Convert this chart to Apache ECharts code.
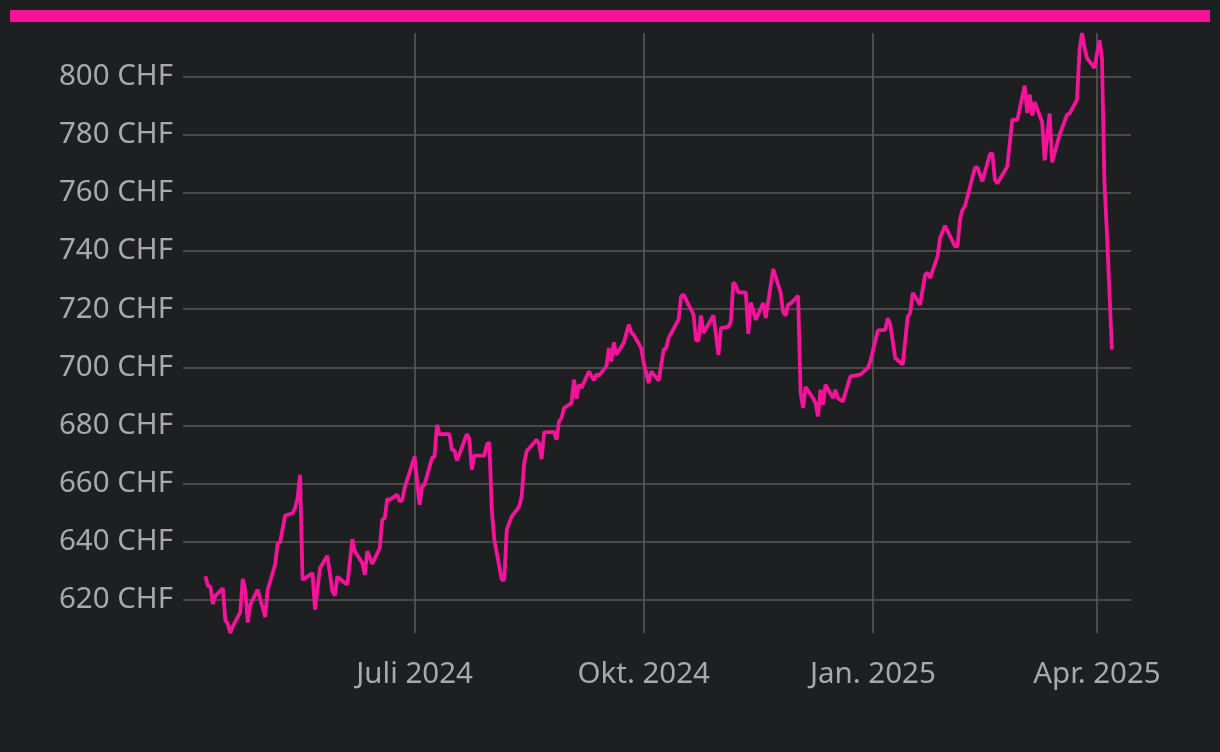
<!DOCTYPE html>
<html>
<head>
<meta charset="utf-8">
<script src="https://cdn.jsdelivr.net/npm/echarts@6/dist/echarts.min.js"></script>
<style>
  html, body { margin: 0; padding: 0; background: #1e1f21; }
  #chart { width: 1220px; height: 752px; }
</style>
</head>
<body>
<div id="chart"></div>
<script>
// Kursverlauf (Schlusskurse)
const dates = [
  '2024-04-08','2024-04-09','2024-04-10','2024-04-11','2024-04-12','2024-04-15','2024-04-16','2024-04-17','2024-04-18','2024-04-19',
  '2024-04-22','2024-04-23','2024-04-24','2024-04-25','2024-04-26','2024-04-29','2024-05-02','2024-05-03','2024-05-06','2024-05-07',
  '2024-05-08','2024-05-10','2024-05-13','2024-05-14','2024-05-15','2024-05-16','2024-05-17','2024-05-21','2024-05-22','2024-05-24',
  '2024-05-27','2024-05-29','2024-05-30','2024-05-31','2024-06-03','2024-06-04','2024-06-06','2024-06-07','2024-06-10','2024-06-11',
  '2024-06-12','2024-06-14','2024-06-17','2024-06-18','2024-06-19','2024-06-20','2024-06-21','2024-06-24','2024-06-25','2024-06-26',
  '2024-06-27','2024-07-01','2024-07-03','2024-07-04','2024-07-05','2024-07-08','2024-07-09','2024-07-10','2024-07-11','2024-07-12',
  '2024-07-15','2024-07-16','2024-07-17','2024-07-18','2024-07-22','2024-07-23','2024-07-24','2024-07-25','2024-07-29','2024-07-30',
  '2024-07-31','2024-08-01','2024-08-02','2024-08-05','2024-08-06','2024-08-07','2024-08-08','2024-08-09','2024-08-12','2024-08-13',
  '2024-08-14','2024-08-15','2024-08-19','2024-08-20','2024-08-21','2024-08-22','2024-08-26','2024-08-27','2024-08-28','2024-08-29',
  '2024-08-30','2024-09-02','2024-09-03','2024-09-04','2024-09-05','2024-09-06','2024-09-09','2024-09-11','2024-09-12','2024-09-13',
  '2024-09-16','2024-09-17','2024-09-18','2024-09-19','2024-09-20','2024-09-23','2024-09-25','2024-09-26','2024-09-27','2024-09-30',
  '2024-10-01','2024-10-03','2024-10-04','2024-10-07','2024-10-09','2024-10-10','2024-10-11','2024-10-15','2024-10-16','2024-10-17',
  '2024-10-21','2024-10-22','2024-10-23','2024-10-24','2024-10-25','2024-10-29','2024-10-31','2024-11-01','2024-11-04','2024-11-05',
  '2024-11-06','2024-11-07','2024-11-08','2024-11-11','2024-11-12','2024-11-13','2024-11-15','2024-11-18','2024-11-19','2024-11-22',
  '2024-11-25','2024-11-26','2024-11-27','2024-11-28','2024-11-29','2024-12-02','2024-12-03','2024-12-04','2024-12-05','2024-12-08',
  '2024-12-09','2024-12-10','2024-12-11','2024-12-12','2024-12-13','2024-12-16','2024-12-17','2024-12-18','2024-12-20','2024-12-23',
  '2024-12-27','2024-12-30','2024-12-31','2025-01-03','2025-01-06','2025-01-07','2025-01-08','2025-01-10','2025-01-13','2025-01-15',
  '2025-01-16','2025-01-17','2025-01-20','2025-01-22','2025-01-23','2025-01-24','2025-01-27','2025-01-28','2025-01-30','2025-02-03',
  '2025-02-04','2025-02-05','2025-02-06','2025-02-07','2025-02-11','2025-02-12','2025-02-14','2025-02-17','2025-02-18','2025-02-19',
  '2025-02-20','2025-02-24','2025-02-26','2025-02-28','2025-03-03','2025-03-04','2025-03-05','2025-03-06','2025-03-07','2025-03-10',
  '2025-03-11','2025-03-13','2025-03-14','2025-03-17','2025-03-20','2025-03-21','2025-03-24','2025-03-25','2025-03-26','2025-03-27',
  '2025-03-28','2025-03-31','2025-04-02','2025-04-03','2025-04-04','2025-04-05','2025-04-07'
]
const closes = [
  628.1,624.8,624.6,618.6,621.4,624.0,612.9,611.8,608.6,610.9,
  615.7,627.2,623.5,612.2,618.3,623.5,614.1,623.5,632.1,639.5,
  639.8,649.0,649.8,651.6,655.0,663.0,626.9,629.2,616.6,630.9,
  635.2,622.9,621.5,628.0,625.8,625.3,640.9,636.7,632.7,628.6,
  636.7,632.4,637.8,647.6,648.1,654.7,654.4,656.2,653.9,654.2,
  658.5,669.3,652.7,659.0,659.6,668.8,669.3,680.2,677.0,677.0,
  677.0,671.6,671.4,667.9,677.0,675.3,664.8,669.6,669.6,673.4,
  674.2,651.0,640.7,626.9,626.9,644.1,646.5,648.7,652.1,655.6,
  667.0,671.1,675.1,673.7,668.4,677.6,677.8,675.1,681.4,682.6,
  686.0,687.7,695.7,689.1,694.0,692.9,698.6,695.5,697.5,697.1,
  700.3,706.6,702.0,708.6,704.3,708.4,714.7,712.0,711.2,706.6,
  701.5,694.6,698.6,695.4,706.0,706.6,710.1,716.4,724.4,725.0,
  718.1,709.3,709.3,717.8,711.8,717.8,704.3,713.5,713.9,715.8,
  729.2,728.1,725.8,725.8,711.5,722.3,716.4,722.1,717.0,733.8,
  725.6,718.9,717.8,721.5,721.9,724.6,691.2,686.0,693.2,689.4,
  687.7,683.1,692.3,687.1,694.0,689.4,692.3,689.4,688.3,696.9,
  697.5,699.8,702.0,712.7,712.9,716.9,714.7,703.2,700.9,717.3,
  718.7,725.6,721.5,731.9,732.5,730.7,738.2,744.5,748.7,741.6,
  741.6,750.8,754.2,755.4,768.6,768.9,764.0,773.2,773.7,764.6,
  763.2,769.1,785.2,785.0,796.9,787.5,793.8,786.6,791.2,784.3,
  771.2,787.3,770.5,780.0,786.9,787.3,792.1,809.3,815.0,809.9,
  806.4,803.0,812.5,806.4,763.4,746.2,706.1
]
// x-Achse: Quartalsanfänge
const tickDates = ['2024-07-01', '2024-10-01', '2025-01-01', '2025-04-01']
const tickLabels = ['Juli 2024', 'Okt. 2024', 'Jan. 2025', 'Apr. 2025']

const pink = '#f5139a'
const labelColor = '#a9a9a9'
const gridColor = '#585858'
const font = '"Noto Sans", "Open Sans", sans-serif'

const ts = (d) => +echarts.time.parse(d)
const tickValues = tickDates.map(ts)

let myChart = echarts.init(document.getElementById('chart'), null, { renderer: 'canvas' })
var option = {
  backgroundColor: '#1e1f21',
  animation: false,
  graphic: [
    {
      type: 'rect',
      shape: { x: 10, y: 10, width: 1200, height: 12 },
      style: { fill: pink }
    }
  ],
  grid: {
    left: 183,
    right: 89,
    top: 33,
    bottom: 119,
    containLabel: false
  },
  xAxis: {
    // Zeitachse als Zahlenachse mit Zeitstempeln, damit nur die Quartalslinien erscheinen
    type: 'value',
    min: ts('2024-03-30'),
    max: ts('2025-04-14 16:00'),
    axisLine: { show: false },
    axisTick: { show: false, customValues: tickValues },
    splitLine: {
      show: true,
      lineStyle: { color: gridColor, width: 1.6 }
    },
    axisLabel: {
      customValues: tickValues,
      color: labelColor,
      fontSize: 29.5,
      fontFamily: font,
      margin: 27,
      formatter: (val) => {
        let i = tickValues.indexOf(val)
        return i >= 0 ? tickLabels[i] : ''
      }
    }
  },
  yAxis: {
    type: 'value',
    min: 'dataMin',
    max: 'dataMax',
    splitNumber: 10,
    axisLine: { show: false },
    axisTick: { show: false },
    splitLine: {
      show: true,
      showMinLine: false,
      showMaxLine: false,
      lineStyle: { color: gridColor, width: 1.6 }
    },
    axisLabel: {
      showMinLabel: false,
      showMaxLabel: false,
      color: labelColor,
      fontSize: 29.5,
      fontFamily: font,
      margin: 10,
      padding: [5, 0, 0, 0],
      formatter: (v) => v + ' CHF'
    }
  },
  series: [
    {
      name: 'Kurs',
      type: 'line',
      showSymbol: false,
      data: dates.map((d, i) => [ts(d), closes[i]]),
      lineStyle: { color: pink, width: 3.8 },
      itemStyle: { color: pink }
    }
  ]
}
myChart.setOption(option)
</script>
</body>
</html>
